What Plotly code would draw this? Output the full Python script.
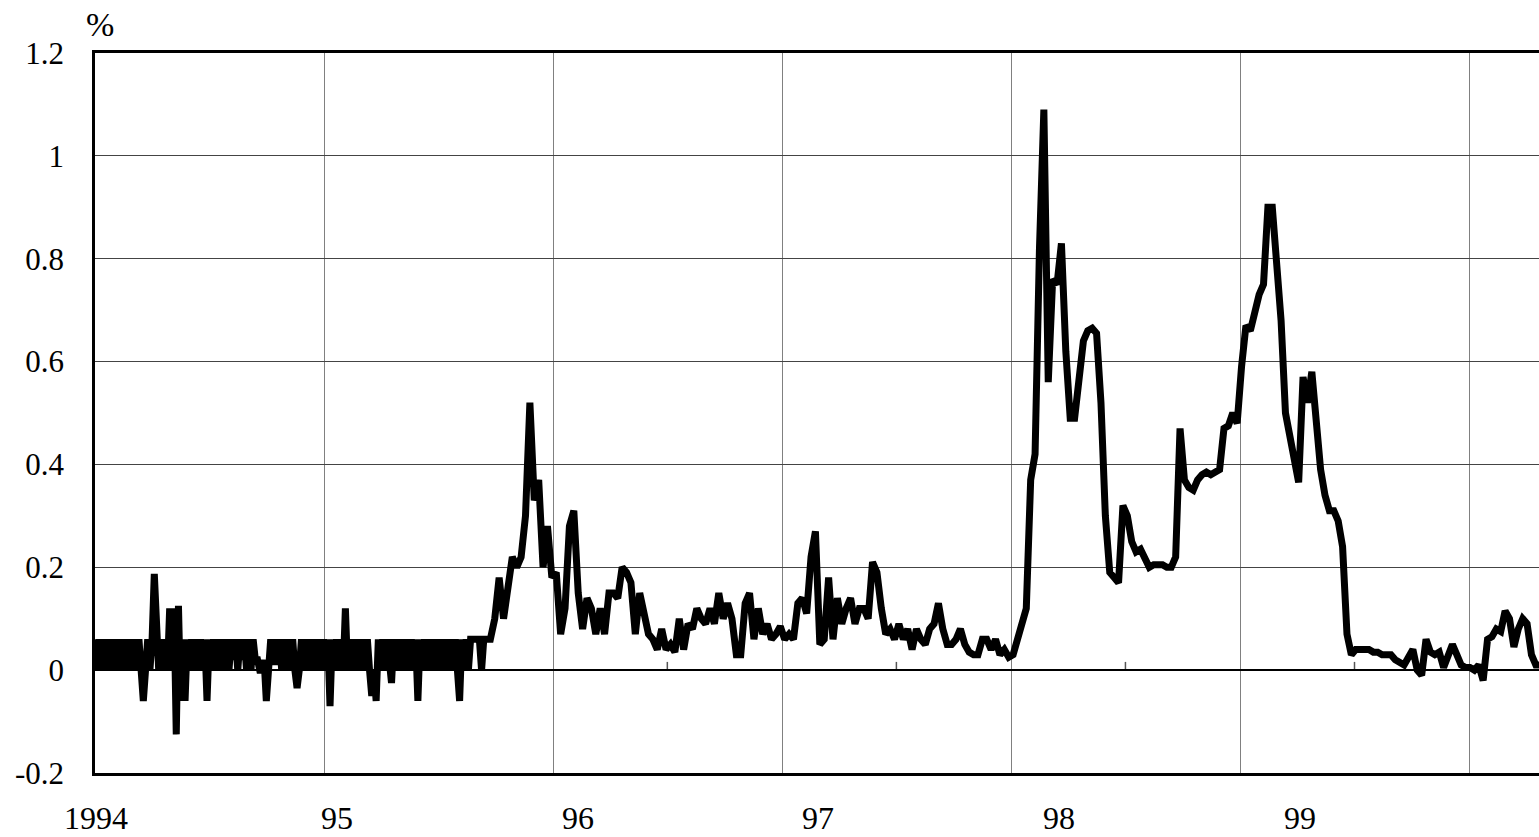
import pandas as pd
import plotly.graph_objects as go

h1994 = [0.06, 0.0, 0.06, 0.0, 0.06, 0.0, 0.06, 0.0, 0.06, 0.0,
         0.06, 0.0, 0.06, 0.0, 0.06, 0.0, 0.06, 0.0, 0.06, 0.0,
         0.06, 0.0, -0.06, 0.0, 0.06, 0.0, 0.06, 0.187, 0.06, 0.0,
         0.06, 0.0, 0.06, 0.0, 0.12, 0.0, 0.12, -0.125, 0.125, -0.06,
         0.06, -0.06, 0.06, 0.0, 0.06, 0.0, 0.06, 0.0, 0.06, 0.0,
         0.06, -0.06, 0.06, 0.0, 0.06, 0.0, 0.06, 0.0, 0.06, 0.0,
         0.06, 0.0, 0.06, 0.02, 0.06, 0.0, 0.06, 0.02, 0.06, 0.0,
         0.06, 0.0, 0.06, 0.02, 0.02, 0.0, 0.0, 0.02, -0.06, 0.0,
         0.06, 0.01, 0.06, 0.01, 0.06, 0.0, 0.06, 0.0, 0.06, 0.0,
         0.06, 0.0, -0.035, 0.0, 0.06, 0.0, 0.06, 0.0, 0.06, 0.0,
         0.06, 0.0, 0.06, 0.0]
h1995 = [0.06, 0.0, 0.06, -0.07, 0.06, 0.0,
         0.06, 0.0, 0.06, 0.0, 0.12, 0.0, 0.06, 0.0, 0.06, 0.0,
         0.06, 0.0, 0.06, 0.0, 0.06, 0.0, -0.05, 0.0, -0.06, 0.06,
         0.0, 0.06, 0.0, 0.06, 0.0, -0.025, 0.06, 0.0, 0.06, 0.0,
         0.06, 0.0, 0.06, 0.0, 0.06, 0.0, 0.06, -0.06, 0.06, 0.0,
         0.06, 0.0, 0.06, 0.0, 0.06, 0.0, 0.06, 0.0, 0.06, 0.0,
         0.06, 0.0, 0.06, 0.0, 0.06, 0.0, -0.06, 0.06, 0.0, 0.06,
         0.0, 0.06, 0.06, 0.06, 0.06, 0.06, 0.0, 0.06, 0.06, 0.06]

# Weekly observations (%), from 1995-09-23
w1995 = [0.06, 0.10, 0.18, 0.10, 0.16, 0.22, 0.20, 0.22, 0.30, 0.52,
         0.33, 0.37, 0.20, 0.28, 0.18]
w1996 = [0.19, 0.07, 0.12, 0.28, 0.31, 0.15, 0.08, 0.14, 0.12, 0.07,
         0.12, 0.07, 0.15, 0.15, 0.14, 0.20, 0.19, 0.17, 0.07, 0.15,
         0.11, 0.07, 0.06, 0.04, 0.08, 0.04, 0.05, 0.035, 0.10, 0.04,
         0.09, 0.08, 0.12, 0.10, 0.09, 0.12, 0.09, 0.15, 0.10, 0.13,
         0.10, 0.03, 0.03, 0.13, 0.15, 0.06, 0.12, 0.07, 0.09, 0.06,
         0.07, 0.085]
w1997 = [0.06, 0.07, 0.06, 0.13, 0.14, 0.11, 0.22, 0.27, 0.05, 0.06,
         0.18, 0.06, 0.14, 0.09, 0.12, 0.14, 0.09, 0.12, 0.12, 0.10,
         0.21, 0.19, 0.12, 0.07, 0.08, 0.06, 0.09, 0.06, 0.08, 0.04,
         0.08, 0.06, 0.05, 0.08, 0.09, 0.13, 0.08, 0.05, 0.05, 0.06,
         0.08, 0.05, 0.035, 0.03, 0.03, 0.06, 0.06, 0.04, 0.06, 0.03,
         0.04, 0.025]
w1998 = [0.03, 0.06, 0.085, 0.12, 0.37, 0.42, 0.82, 1.09, 0.56, 0.76,
         0.75, 0.83, 0.62, 0.49, 0.49, 0.56, 0.64, 0.66, 0.665, 0.655,
         0.52, 0.30, 0.19, 0.18, 0.17, 0.32, 0.30, 0.25, 0.23, 0.235,
         0.22, 0.20, 0.205, 0.205, 0.205, 0.20, 0.20, 0.22, 0.47, 0.37,
         0.355, 0.35, 0.37, 0.38, 0.385, 0.38, 0.385, 0.39, 0.47, 0.475,
         0.50, 0.48]
w1999 = [0.59, 0.67, 0.66, 0.70, 0.73, 0.75, 0.90, 0.90, 0.78, 0.68,
         0.50, 0.45, 0.40, 0.365, 0.57, 0.52, 0.58, 0.48, 0.39, 0.34,
         0.31, 0.31, 0.29, 0.24, 0.07, 0.03, 0.04, 0.04, 0.04, 0.04,
         0.035, 0.035, 0.03, 0.03, 0.03, 0.02, 0.015, 0.01, 0.025, 0.04,
         0.0, -0.01, 0.06, 0.035, 0.03, 0.035, 0.005, 0.03, 0.05, 0.03,
         0.01, 0.005]
w2000 = [0.005, 0.0, 0.01, -0.02, 0.06, 0.065, 0.08, 0.075, 0.115, 0.10,
         0.045, 0.08, 0.10, 0.09, 0.03, 0.01, 0.01]

x_labels = ["1994", "95", "96", "97", "98", "99"]
y_ticks = [-0.2, 0, 0.2, 0.4, 0.6, 0.8, 1.0, 1.2]
y_labels = ["-0.2", "0", "0.2", "0.4", "0.6", "0.8", "1", "1.2"]

half = h1994 + h1995
weekly = w1995 + w1996 + w1997 + w1998 + w1999 + w2000
dates = list(pd.date_range("1994-01-01", periods=len(half), freq="84h")) + \
        list(pd.date_range("1995-09-23", periods=len(weekly), freq="7D"))
values = half + weekly

FONT = "Liberation Serif"
W, H = 1539, 837
L, R, T, B = 95, 0, 53, 64
plot_w = W - L - R
plot_h = H - T - B

fig = go.Figure()
fig.add_trace(go.Scatter(x=dates, y=values, mode="lines",
                         line=dict(color="black", width=7),
                         hoverinfo="skip", showlegend=False))

# half-year minor ticks on the zero line
shapes = []
for yr in range(1994, 2000):
    shapes.append(dict(type="line", xref="x", yref="y",
                       x0=f"{yr}-07-01", x1=f"{yr}-07-01", y0=0, y1=0.016,
                       line=dict(color="#555555", width=1.5), layer="below"))

annotations = []
for k, lab in enumerate(x_labels):
    px = 1 + k * 240.8
    annotations.append(dict(text=lab, xref="paper", yref="paper",
                            x=px / plot_w, y=-(818 - 773) / plot_h,
                            xanchor="center", yanchor="middle", showarrow=False,
                            font=dict(family=FONT, size=32, color="black")))
annotations.append(dict(text="%", xref="paper", yref="paper",
                        x=(100 - L) / plot_w, y=1 + (53 - 25) / plot_h,
                        xanchor="center", yanchor="middle", showarrow=False,
                        font=dict(family=FONT, size=34, color="black")))

fig.update_layout(
    width=W, height=H,
    margin=dict(l=L, r=R, t=T, b=B, pad=0),
    paper_bgcolor="white", plot_bgcolor="white",
    shapes=shapes, annotations=annotations,
    xaxis=dict(type="date", range=["1994-01-01", "2000-04-20"],
               tick0="1994-01-01", dtick="M12", showticklabels=False,
               showgrid=True, gridcolor="#808080", gridwidth=1,
               showline=True, linecolor="black", linewidth=2.5, mirror=True,
               ticks="", zeroline=False),
    yaxis=dict(range=[-0.2, 1.2], tickvals=y_ticks, ticktext=y_labels,
               showgrid=True, gridcolor="#444444", gridwidth=1,
               zeroline=True, zerolinecolor="black", zerolinewidth=1.5,
               showline=True, linecolor="black", linewidth=2.5, mirror=False,
               ticks="", ticklabelstandoff=22,
               tickfont=dict(family=FONT, size=31, color="black")),
)

fig.write_html("out.html",
               config={"displayModeBar": False},
               post_script="document.body.style.margin='0px';"
                           "document.body.style.overflow='hidden';")
